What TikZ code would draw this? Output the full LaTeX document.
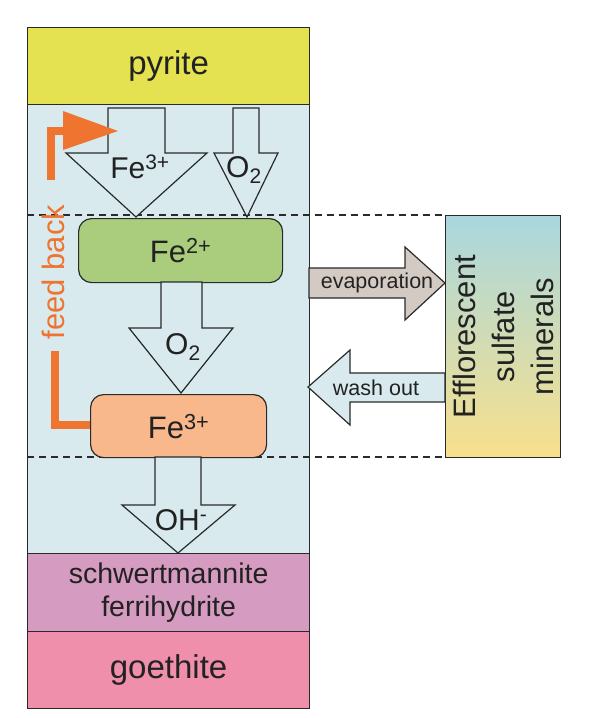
\documentclass[tikz,border=0pt]{standalone}
\usepackage{fontspec}
\setmainfont{Liberation Sans}
\definecolor{linec}{HTML}{2A2A2A}
\definecolor{txtc}{HTML}{222222}
\definecolor{pyritec}{HTML}{E4E250}
\definecolor{waterc}{HTML}{D8EAEE}
\definecolor{fetwoc}{HTML}{AACD7D}
\definecolor{fethreec}{HTML}{F9B78C}
\definecolor{schwc}{HTML}{D69BC0}
\definecolor{goetc}{HTML}{F08FAC}
\definecolor{fbc}{HTML}{EE7430}
\definecolor{evapc}{HTML}{D4CAC4}
\definecolor{effltop}{HTML}{A9D7DE}
\definecolor{efflbot}{HTML}{F8E08C}
\begin{document}
\begin{tikzpicture}[x=1pt,y=-1pt,line join=miter,
  box/.style={draw=linec,line width=1.2pt,inner sep=0pt,anchor=north west,text=txtc,align=center},
  rbox/.style={box,rounded corners=13pt},
  blk/.style={draw=linec,line width=1.2pt},
  big/.style={font=\fontsize{33}{38}\selectfont},
  mid/.style={font=\fontsize{31}{36}\selectfont},
  lbl/.style={text=txtc,inner sep=0pt,font=\fontsize{30}{34}\selectfont},
  sml/.style={text=txtc,inner sep=0pt,font=\fontsize{21.5}{26}\selectfont},
  dline/.style={draw=linec,line width=1.2pt,dash pattern=on 7pt off 5pt},
  fb/.style={draw=fbc,line width=8pt}]
\useasboundingbox (0,0) rectangle (590,718);
\fill[white] (0,0) rectangle (590,718);
% column
\node[box,fill=waterc,minimum width=282pt,minimum height=449pt] (water) at (27,104) {};
\node[box,fill=pyritec,minimum width=282pt,minimum height=77pt,big] (pyrite) at (27,27) {pyrite};
\node[box,fill=schwc,minimum width=282pt,minimum height=78pt,font=\fontsize{28.5}{33}\selectfont] (schw) at (27,553) {schwertmannite\\ferrihydrite};
\node[box,fill=goetc,minimum width=282pt,minimum height=77pt,big] (goet) at (27,631) {goethite};
% dashed levels
\draw[dline] (27,215) -- (445,215);
\draw[dline] (27,457) -- (445,457);
% top arrows
\draw[blk,fill=waterc] (108,108) -- (165,108) -- (165,153) -- (207,153) -- (136,217) -- (66,153) -- (108,153) -- cycle;
\node[lbl] (lfe3a) at (140,167) {Fe\textsuperscript{3+}};
\draw[blk,fill=waterc] (233,108) -- (259,108) -- (259,153) -- (278,153) -- (247,217) -- (214,153) -- (233,153) -- cycle;
\node[lbl] (lo2a) at (244,170) {O\textsubscript{2}};
% Fe2+
\node[rbox,fill=fetwoc,minimum width=204pt,minimum height=64pt,mid] (fe2) at (78,218) {Fe\textsuperscript{2+}};
% middle arrow
\draw[blk,fill=waterc] (161,282) -- (202,282) -- (202,328) -- (233,328) -- (181,393) -- (129,328) -- (161,328) -- cycle;
\node[lbl] (lo2b) at (183,347) {O\textsubscript{2}};
% Fe3+
\node[rbox,fill=fethreec,minimum width=176pt,minimum height=63pt,mid] (fe3) at (90,394) {Fe\textsuperscript{3+}};
% OH arrow
\draw[blk,fill=waterc] (155,457) -- (201,457) -- (201,505) -- (235,505) -- (178,553) -- (122,505) -- (155,505) -- cycle;
\node[lbl] (loh) at (181,520) {OH\textsuperscript{-}};
% efflorescent box
\node[box,top color=effltop,bottom color=efflbot,minimum width=115pt,minimum height=242pt] (effl) at (445,215) {};
\node[rotate=90,text=txtc,align=center,font=\fontsize{31}{39}\selectfont] (efltxt) at (effl.center) {Efflorescent\\sulfate\\minerals};
% evaporation / wash out
\draw[blk,fill=evapc] (309,268) -- (405,268) -- (405,247) -- (445,283) -- (405,320) -- (405,298) -- (309,298) -- cycle;
\node[sml] (levap) at (377,283) {evaporation};
\draw[blk,fill=waterc] (445,373) -- (350,373) -- (350,350) -- (308,387) -- (350,425) -- (350,402) -- (445,402) -- cycle;
\node[sml] (lwash) at (376,388) {wash out};
% feedback
\coordinate (fbmid) at (54.5,351);
\coordinate (fbtop) at (51,180);
\coordinate (fbturn) at (51,131);
\coordinate (fbhead) at (63,131);
\draw[fb] ([yshift=1.5pt]fe3.west) -| (fbmid);
\draw[fb] (fbtop) -- ([yshift=-4pt]fbturn) -- (fbturn) -- (fbhead);
\fill[fbc] (63,111) -- (118,131) -- (63,150) -- cycle;
\node[rotate=90,text=fbc,inner sep=0pt,font=\fontsize{31}{36}\selectfont] (fbtxt) at (53,272) {feed back};
\end{tikzpicture}
\end{document}
